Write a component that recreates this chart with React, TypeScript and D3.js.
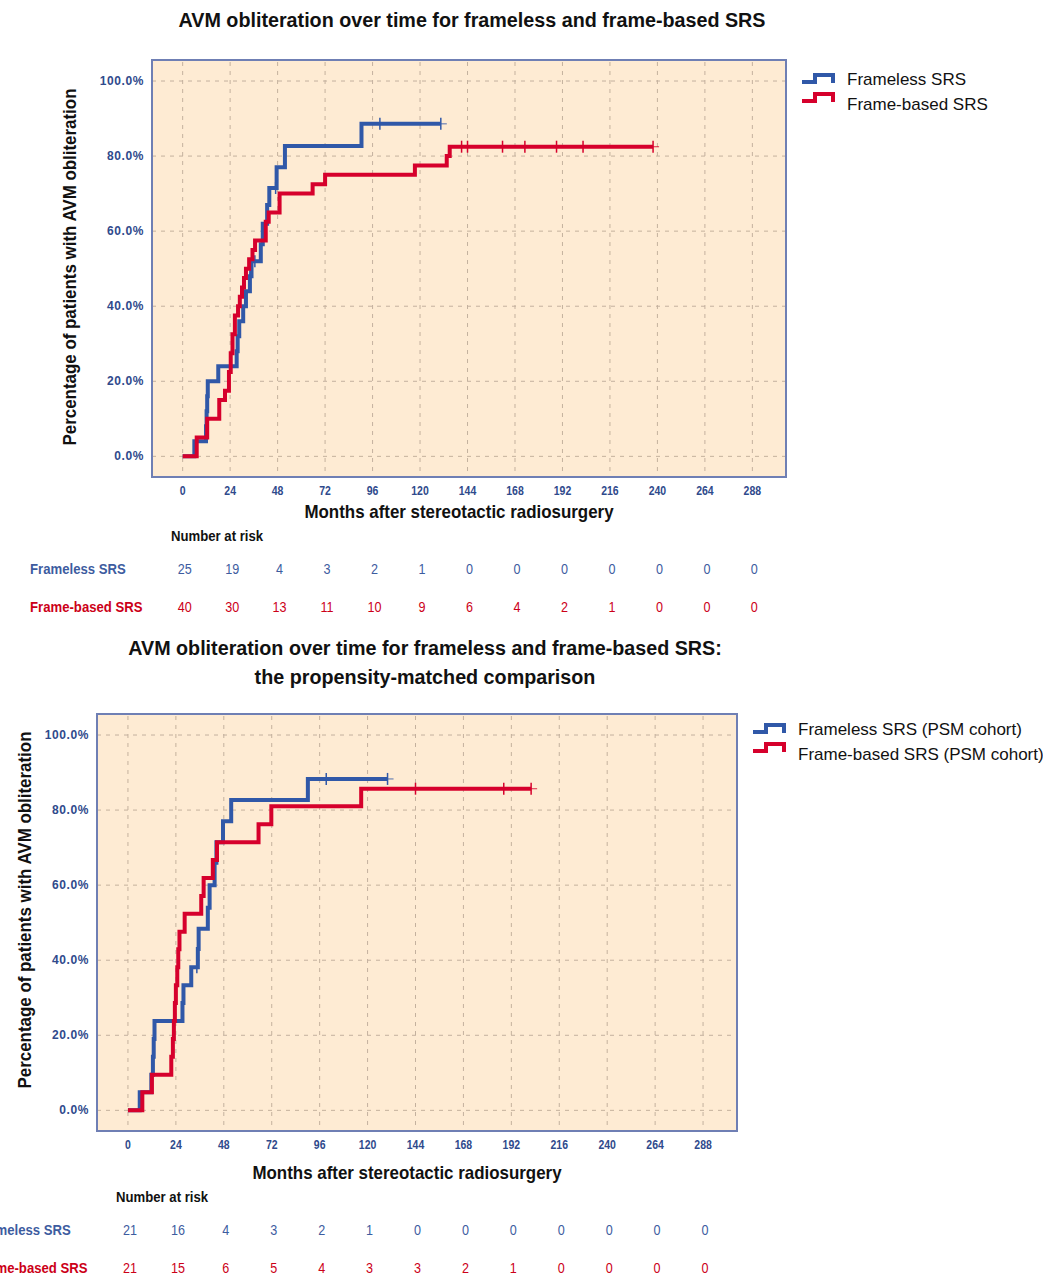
import React, { useEffect, useRef } from "react";
import * as d3 from "d3";

const NARROW = "'Liberation Sans Narrow', 'Liberation Sans', Arial, sans-serif";
const SANS = "'Liberation Sans', Arial, sans-serif";

const BLUE = "#3058a8";
const RED = "#d6002c";
const TICK_BLUE = "#2f4a8c";
const RISK_BLUE = "#3d5c9f";
const RISK_RED = "#cc0018";

// x ticks (months) and y ticks (%)
const monthTicks = [0, 24, 48, 72, 96, 120, 144, 168, 192, 216, 240, 264, 288];
const pctTicks = [0, 20, 40, 60, 80, 100];

// ---- whole cohort ----
const framelessSteps = [
  [0, 0], [5.9, 4], [11.8, 8], [12.1, 12], [12.4, 16], [12.7, 20], [18, 24],
  [27.3, 28], [27.8, 32], [28.6, 36], [30.6, 40], [32, 44], [34, 48], [34.8, 52],
  [39.5, 56.5], [40.5, 62], [42.7, 67], [43.8, 71.5], [47.5, 77], [51.7, 82.7], [90.4, 88.6],
];
const framelessCensor = [34, 36.5, 47, 99.7, 130.5];

const frameBasedSteps = [
  [0, 0], [7.1, 5], [12.4, 10], [18.5, 15], [21.4, 17.5], [23.4, 22.5], [24.3, 27.5],
  [25.2, 32.5], [26.4, 37.5], [28, 40], [28.9, 42.5], [30, 45], [31, 47.5], [32, 50],
  [33.6, 52.5], [35.3, 55], [36.6, 57.5], [42, 62.5], [43.5, 65], [49, 70],
  [65.7, 72.5], [72, 75], [117.4, 77.5], [133.5, 80], [135, 82.5],
];
const frameBasedCensor = [141, 144, 161.7, 173, 189, 202.4, 237.8];

const framelessRisk = [25, 19, 4, 3, 2, 1, 0, 0, 0, 0, 0, 0, 0];
const frameBasedRisk = [40, 30, 13, 11, 10, 9, 6, 4, 2, 1, 0, 0, 0];

// ---- propensity-matched cohort ----
const framelessPsmSteps = [
  [0, 0], [5.9, 4.8], [11.7, 9.5], [12.5, 14.3], [12.9, 19], [13.3, 23.8],
  [27.3, 28.6], [27.8, 33.3], [31.7, 38.1], [35, 43], [35.4, 48.4], [40, 54],
  [40.9, 60], [43.4, 66], [44.3, 71.4], [47.6, 77], [51.7, 82.7], [90.1, 88.3],
];
const framelessPsmCensor = [34.5, 99.3, 130];

const frameBasedPsmSteps = [
  [0, 0], [7.2, 4.8], [12, 9.5], [21.7, 14.3], [22.5, 19], [23, 23.8], [23.5, 28.6],
  [24, 33.3], [24.7, 38.1], [25.2, 42.9], [25.8, 47.6], [28.4, 52.4], [36.7, 57.1],
  [37.9, 61.9], [42.5, 66.7], [44.6, 71.4], [65.4, 76.2], [71.8, 81], [116.8, 85.7],
];
const frameBasedPsmCensor = [144, 188.2, 201.9];

const framelessPsmRisk = [21, 16, 4, 3, 2, 1, 0, 0, 0, 0, 0, 0, 0];
const frameBasedPsmRisk = [21, 15, 6, 5, 4, 3, 3, 2, 1, 0, 0, 0, 0];

const rowNames = ["Frameless SRS", "Frame-based SRS"];

type Panel = {
  left: number;
  top: number;
  width: number;
  height: number;
  titles: string[];
  titleX: number;
  titleY: number;
  yTitleX: number;
  yTitleY: number;
  belowShift: number;
  legendDy: number;
  legend: string[];
  series: { steps: number[][]; censor: number[]; color: string }[];
  risk: number[][];
};

// condensed text: the reference uses a narrow face, so squeeze horizontally
const label = (
  g: any,
  x: number,
  y: number,
  str: string | number,
  font: string,
  fill: string,
  anchor = "start",
  sx = 0.94,
  rotate = false
) =>
  g
    .append("text")
    .attr("transform", `translate(${x},${y})${rotate ? " rotate(-90)" : ""} scale(${sx},1)`)
    .attr("text-anchor", anchor)
    .style("font", font)
    .attr("fill", fill)
    .text(str);

const drawPanel = (svg: any, p: Panel) => {
  const x = d3.scaleLinear().domain([-15.5, 305]).range([p.left, p.left + p.width]);
  const y = d3.scaleLinear().domain([-5.5, 105.6]).range([p.top + p.height, p.top]);
  const g = svg.append("g");

  // titles
  p.titles.forEach((t, i) => {
    label(g, p.titleX, p.titleY + i * 29, t, `bold 21px ${NARROW}`, "#111", "middle");
  });

  // plot background
  g.append("rect")
    .attr("x", p.left)
    .attr("y", p.top)
    .attr("width", p.width)
    .attr("height", p.height)
    .attr("fill", "#feebd3");

  // grid
  g.append("g")
    .selectAll("line")
    .data(monthTicks)
    .join("line")
    .attr("x1", (d) => x(d))
    .attr("x2", (d) => x(d))
    .attr("y1", p.top + 2)
    .attr("y2", p.top + p.height)
    .attr("stroke", "#c4b19e")
    .attr("stroke-dasharray", "4,5");
  g.append("g")
    .selectAll("line")
    .data(pctTicks)
    .join("line")
    .attr("x1", p.left)
    .attr("x2", p.left + p.width)
    .attr("y1", (d) => y(d))
    .attr("y2", (d) => y(d))
    .attr("stroke", "#c4b19e")
    .attr("stroke-dasharray", "4,5");

  g.append("rect")
    .attr("x", p.left)
    .attr("y", p.top)
    .attr("width", p.width)
    .attr("height", p.height)
    .attr("fill", "none")
    .attr("stroke", "#6f7fb4")
    .attr("stroke-width", 2);

  // tick labels
  g.append("g")
    .selectAll("text")
    .data(pctTicks)
    .join("text")
    .attr("x", p.left - 8)
    .attr("y", (d) => y(d) + 4)
    .attr("text-anchor", "end")
    .style("font", `bold 12px ${SANS}`)
    .style("letter-spacing", "0.6px")
    .attr("fill", TICK_BLUE)
    .text((d) => d.toFixed(1) + "%");
  monthTicks.forEach((m) => {
    label(g, x(m), p.top + p.height + 18, m, `bold 12.5px ${NARROW}`, TICK_BLUE, "middle", 0.84);
  });

  // axis titles
  label(
    g,
    p.left + p.width / 2 - 10,
    p.top + p.height + 41 + p.belowShift,
    "Months after stereotactic radiosurgery",
    `bold 18px ${NARROW}`,
    "#111",
    "middle"
  );
  label(
    g,
    p.yTitleX,
    p.yTitleY,
    "Percentage of patients with AVM obliteration",
    `bold 18px ${NARROW}`,
    "#111",
    "middle",
    0.94,
    true
  );

  // KM curves
  const line = d3
    .line<number[]>()
    .x((d) => x(d[0]))
    .y((d) => y(d[1]))
    .curve(d3.curveStepAfter);
  const valueAt = (steps: number[][], m: number) => {
    let v = 0;
    steps.forEach((s) => {
      if (s[0] <= m) v = s[1];
    });
    return v;
  };
  p.series.forEach((s) => {
    const end = s.censor[s.censor.length - 1];
    const pts = [...s.steps, [end, s.steps[s.steps.length - 1][1]]];
    g.append("path")
      .attr("d", line(pts))
      .attr("fill", "none")
      .attr("stroke", s.color)
      .attr("stroke-width", 4);
    g.append("g")
      .selectAll("line")
      .data(s.censor)
      .join("line")
      .attr("x1", (d) => x(d))
      .attr("x2", (d) => x(d))
      .attr("y1", (d) => y(valueAt(s.steps, d)) - 6)
      .attr("y2", (d) => y(valueAt(s.steps, d)) + 6)
      .attr("stroke", s.color)
      .attr("stroke-width", 1.5);
    g.append("line")
      .attr("x1", x(end))
      .attr("x2", x(end) + 6)
      .attr("y1", y(valueAt(s.steps, end)))
      .attr("y2", y(valueAt(s.steps, end)))
      .attr("stroke", s.color)
      .attr("stroke-width", 1.2)
      .attr("opacity", 0.7);
  });

  // legend
  const lx = p.left + p.width + 16;
  p.legend.forEach((t, i) => {
    const yb = p.top + p.legendDy + i * 19;
    g.append("path")
      .attr("d", `M${lx},${yb} H${lx + 13} V${yb - 7} H${lx + 31} V${yb + 1}`)
      .attr("fill", "none")
      .attr("stroke", p.series[i].color)
      .attr("stroke-width", 4);
    g.append("text")
      .attr("x", lx + 45)
      .attr("y", yb + 3 + i * 6)
      .style("font", `17px ${SANS}`)
      .attr("fill", "#111")
      .text(t);
  });

  // number at risk
  const ry = p.top + p.height + p.belowShift;
  label(g, p.left + 19, ry + 64, "Number at risk", `bold 14px ${NARROW}`, "#111");
  const rowColors = [RISK_BLUE, RISK_RED];
  p.risk.forEach((row, i) => {
    const yy = ry + 97 + i * 38;
    label(g, p.left - 122, yy, rowNames[i], `bold 14px ${NARROW}`, rowColors[i]);
    row.forEach((v, j) => {
      label(g, x(monthTicks[j]) + 2, yy, v, `14px ${NARROW}`, rowColors[i], "middle", 0.9);
    });
  });
};

export default function App() {
  const ref = useRef<SVGSVGElement>(null);

  useEffect(() => {
    const svg = d3.select(ref.current);
    svg.selectAll("*").remove();
    drawPanel(svg, {
      left: 152,
      top: 60,
      width: 634,
      height: 417,
      titles: ["AVM obliteration over time for frameless and frame-based SRS"],
      titleX: 472,
      titleY: 27,
      yTitleX: 76,
      yTitleY: 267,
      belowShift: 0,
      legendDy: 22,
      legend: ["Frameless SRS", "Frame-based SRS"],
      series: [
        { steps: framelessSteps, censor: framelessCensor, color: BLUE },
        { steps: frameBasedSteps, censor: frameBasedCensor, color: RED },
      ],
      risk: [framelessRisk, frameBasedRisk],
    });
    drawPanel(svg, {
      left: 97,
      top: 714,
      width: 640,
      height: 417,
      titles: [
        "AVM obliteration over time for frameless and frame-based SRS:",
        "the propensity-matched comparison",
      ],
      titleX: 425,
      titleY: 655,
      yTitleX: 31,
      yTitleY: 910,
      belowShift: 7,
      legendDy: 18,
      legend: ["Frameless SRS (PSM cohort)", "Frame-based SRS (PSM cohort)"],
      series: [
        { steps: framelessPsmSteps, censor: framelessPsmCensor, color: BLUE },
        { steps: frameBasedPsmSteps, censor: frameBasedPsmCensor, color: RED },
      ],
      risk: [framelessPsmRisk, frameBasedPsmRisk],
    });
  }, []);

  return (
    <svg
      ref={ref}
      width={1043}
      height={1277}
      style={{ position: "absolute", left: 0, top: 0, background: "#fff" }}
    />
  );
}
